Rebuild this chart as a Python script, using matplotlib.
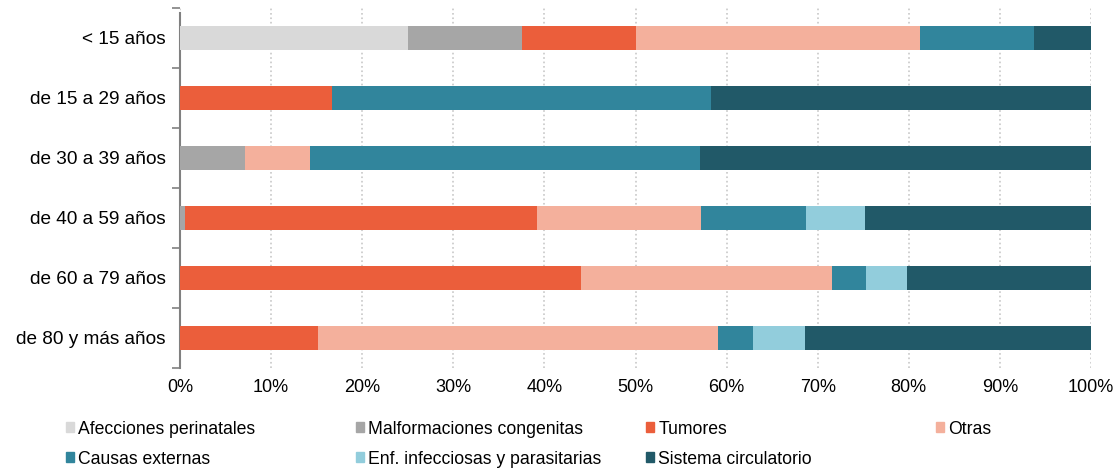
import matplotlib.pyplot as plt
from matplotlib.patches import Patch
import numpy as np

plt.rcParams['font.family'] = ['Liberation Sans', 'DejaVu Sans']

# grupos de edad (de arriba a abajo)
grupos = ['< 15 años', 'de 15 a 29 años', 'de 30 a 39 años',
          'de 40 a 59 años', 'de 60 a 79 años', 'de 80 y más años']

# porcentajes por causa para cada grupo
perinatales = [25.0, 0, 0, 0, 0, 0]
malformaciones = [12.5, 0, 7.1, 0.6, 0, 0]
tumores = [12.5, 16.7, 0, 38.6, 44.0, 15.1]
otras = [31.25, 0, 7.2, 18.0, 27.6, 44.0]
causas_ext = [12.5, 41.6, 42.8, 11.5, 3.7, 3.8]
infecciosas = [0, 0, 0, 6.5, 4.5, 5.7]
circulatorio = [6.25, 41.7, 42.9, 24.8, 20.2, 31.4]

series = [perinatales, malformaciones, tumores, otras,
          causas_ext, infecciosas, circulatorio]
nombres = ['Afecciones perinatales', 'Malformaciones congenitas', 'Tumores',
           'Otras', 'Causas externas', 'Enf. infecciosas y parasitarias',
           'Sistema circulatorio']
colores = ['#d9d9d9', '#a6a6a6', '#eb5e3b', '#f4b09c',
           '#31859c', '#92cddc', '#215968']

fig = plt.figure(figsize=(11.17, 4.68), dpi=100)
ax = fig.add_axes([180 / 1117, 1 - 368 / 468, (1091 - 180) / 1117, 360 / 468])

y = np.arange(len(grupos))
izq = np.zeros(len(grupos))
for vals, col in zip(series, colores):
    ax.barh(y, vals, left=izq, height=0.4, color=col, zorder=3)
    izq += np.array(vals)

ax.set_ylim(len(grupos) - 0.5, -0.5)
ax.set_xlim(0, 100)
ax.set_xticks(np.arange(0, 101, 10))
ax.set_xticklabels([f'{v}%' for v in range(0, 101, 10)], fontsize=13)
ax.set_yticks(y)
ax.set_yticklabels(grupos, fontsize=13.7)
ax.set_yticks(np.arange(-0.5, len(grupos), 1), minor=True)
ax.tick_params(axis='y', which='major', length=0, pad=10.5)
ax.tick_params(axis='y', which='minor', length=6, color='#808080', width=1.2)
ax.tick_params(axis='x', length=0, pad=8)
ax.xaxis.grid(True, linestyle=':', color='#c8c8c8', linewidth=1.2, zorder=0)
for s in ['top', 'right', 'bottom']:
    ax.spines[s].set_visible(False)
ax.spines['left'].set_color('#808080')
ax.spines['left'].set_linewidth(1.5)
ax.spines['left'].set_bounds(len(grupos) - 0.5, -0.42)

# leyenda en 4 columnas de ancho fijo
col_x = [66, 356, 646, 936]
fila_y = [429, 459]
for i, (nom, col) in enumerate(zip(nombres, colores)):
    c, f = i % 4, i // 4
    fig.legend([Patch(color=col)], [nom], loc='center left',
               bbox_to_anchor=(col_x[c] / 1117, 1 - fila_y[f] / 468),
               frameon=False, fontsize=12.7, handlelength=0.45, handleheight=0.45,
               handletextpad=0.25, borderpad=0, borderaxespad=0)

fig.savefig('out.png', dpi=100)
